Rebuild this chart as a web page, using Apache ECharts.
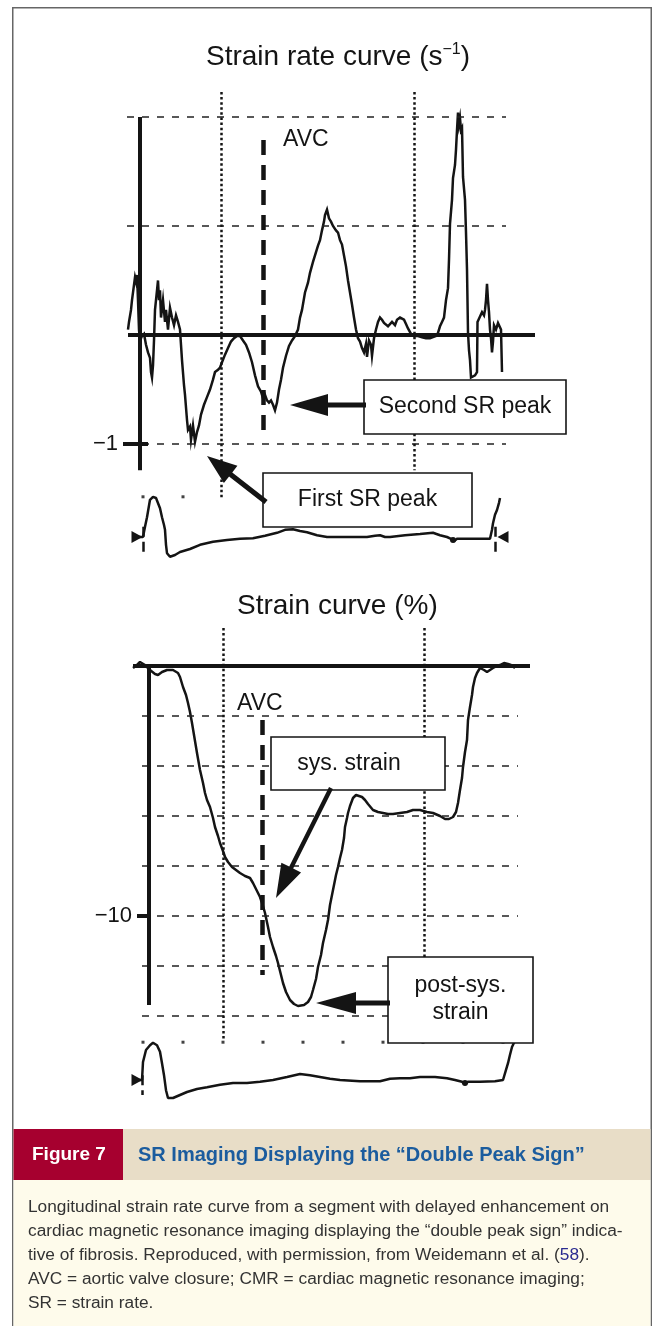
<!DOCTYPE html>
<html><head><meta charset="utf-8">
<script src="https://cdn.jsdelivr.net/npm/echarts@6/dist/echarts.min.js"></script>
<style>html,body{margin:0;padding:0;background:#fff}#c{width:656px;height:1326px}</style>
</head><body><div id="c"></div>
<script>
// ---------- DATA ----------
// Strain rate (s^-1) vs time (ms)
const srCurve = [
[0,0.05],[2.5,0.12],[7.5,0.23],[10,0.32],[15,0.46],[17.5,0.53],[20,0.49],[22.5,0.55],[25,0.32],[27.5,0.05],[30,-0.05],[35,-0.01],[40,0.01],[45,-0.09],[50,-0.16],[55,-0.21],[57.5,-0.34],[60,-0.39],[62.5,-0.28],[65,-0.05],[67.5,0.23],[72.5,0.41],[75,0.50],[77.5,0.32],[80,0.41],[82.5,0.16],[87.5,0.32],[92.5,0.12],[95,0.23],[100,0.05],[105,0.25],[110,0.16],[115,0.09],[120,0.18],[125,0.12],[130,0.05],[132.5,-0.09],[135,-0.23],[140,-0.46],[142.5,-0.55],[147.5,-0.78],[150,-0.87],[155,-0.84],[157.5,-0.96],[162.5,-0.83],[167.5,-0.98],[172.5,-0.89],[177.5,-0.83],[182.5,-0.73],[190,-0.64],[197.5,-0.57],[205,-0.50],[212.5,-0.41],[217.5,-0.34],[225,-0.32],[230,-0.30],[235,-0.25],[242.5,-0.18],[250,-0.12],[257.5,-0.06],[265,-0.03],[272.5,-0.01],[280,-0.01],[287.5,-0.05],[295,-0.09],[302.5,-0.16],[310,-0.25],[317.5,-0.37],[325,-0.47],[332.5,-0.52],[337.5,-0.58],[342.5,-0.55],[347.5,-0.60],[352.5,-0.62],[357.5,-0.60],[362.5,-0.64],[367.5,-0.69],[372.5,-0.62],[377.5,-0.50],[382.5,-0.41],[387.5,-0.30],[395,-0.19],[402.5,-0.10],[410,-0.05],[417.5,-0.01],[425,0.05],[430,0.16],[435,0.23],[442.5,0.39],[450,0.48],[455,0.57],[462.5,0.67],[470,0.76],[475,0.82],[480,0.87],[485,0.96],[490,1.04],[492.5,1.10],[497.5,1.15],[502.5,1.07],[507.5,1.04],[512.5,1.00],[520,0.96],[525,0.94],[530,0.87],[535,0.83],[540,0.73],[545,0.63],[550,0.50],[555,0.39],[560,0.28],[565,0.16],[570,0.05],[575,-0.03],[580,-0.06],[585,-0.12],[590,-0.16],[595,-0.08],[597.5,-0.20],[602.5,-0.05],[607.5,-0.09],[610,-0.19],[615,-0.03],[620,0.05],[625,0.12],[630,0.16],[635,0.14],[640,0.11],[645,0.12],[650,0.08],[655,0.07],[660,0.12],[667.5,0.09],[672.5,0.14],[680,0.16],[685,0.17],[690,0.14],[695,0.10],[700,0.06],[707.5,0.01],[715,-0.01],[725,-0.01],[735,-0.02],[745,-0.03],[755,-0.03],[762.5,-0.02],[770,-0.01],[775,0.02],[780,0.08],[785,0.12],[790,0.16],[795,0.32],[800,0.43],[802.5,0.69],[805,1.02],[810,1.24],[812.5,1.44],[817.5,1.56],[820,1.70],[822.5,1.88],[825,2.04],[827.5,1.93],[830,1.99],[832.5,1.88],[835,1.90],[837.5,1.45],[842.5,1.24],[845,0.94],[847.5,0.60],[850,0.02],[852.5,-0.14],[855,-0.23],[857.5,-0.39],[862.5,-0.39],[867.5,-0.37],[872.5,-0.34],[873.75,0.12],[880,0.17],[885,0.21],[890,0.18],[892.5,0.23],[895,0.32],[897.5,0.47],[900,0.32],[902.5,0.21],[905,0.05],[907.5,-0.03],[910,-0.16],[912.5,-0.06],[915,0.09],[920,0.05],[925,0.11],[930,0.12],[932.5,0.05],[935,-0.34]
];
// Strain (%) vs time (ms)
const strainCurve = [
[12.5,-0.08],[22.5,0.04],[30,0.16],[35,0.2],[42.5,0.04],[55,-0.16],[67.5,-0.32],[75,-0.36],[85,-0.24],[97.5,-0.16],[112.5,-0.16],[125,-0.28],[130,-0.44],[137.5,-0.84],[145,-1.16],[150,-1.48],[155,-1.84],[160,-2.28],[165,-2.76],[172.5,-3.48],[180,-4.16],[187.5,-4.68],[192.5,-5.08],[197.5,-5.36],[205,-5.64],[212.5,-6.08],[217.5,-6.44],[225,-6.8],[230,-7.08],[237.5,-7.4],[242.5,-7.64],[250,-7.84],[260,-8.04],[270,-8.16],[280,-8.28],[292.5,-8.4],[305,-8.48],[312.5,-8.68],[317.5,-8.84],[325,-9.08],[330,-9.24],[337.5,-9.6],[342.5,-9.88],[350,-10.44],[355,-10.84],[362.5,-11.24],[370,-11.6],[375,-11.88],[382.5,-12.36],[387.5,-12.68],[395,-13.04],[405,-13.36],[415,-13.52],[425,-13.6],[430,-13.64],[440,-13.56],[450,-13.44],[457.5,-13.24],[462.5,-12.96],[470,-12.52],[475,-12.04],[482.5,-11.56],[487.5,-11.08],[495,-10.56],[500,-10.16],[505,-9.56],[512.5,-8.96],[520,-8.36],[525,-8.04],[530,-7.68],[535,-7.36],[540,-6.88],[542.5,-6.44],[547.5,-6.08],[550,-5.88],[555,-5.6],[562.5,-5.28],[570,-5.16],[575,-5.12],[585,-5.24],[592.5,-5.36],[600,-5.52],[612.5,-5.76],[625,-5.84],[637.5,-5.88],[650,-5.92],[662.5,-5.92],[680,-5.88],[697.5,-5.84],[712.5,-5.76],[730,-5.76],[747.5,-5.84],[762.5,-5.88],[780,-6.0],[792.5,-6.12],[802.5,-6.12],[812.5,-6.04],[820,-5.84],[825,-5.48],[830,-4.96],[835,-4.48],[837.5,-4.04],[842.5,-3.44],[847.5,-2.96],[850,-2.16],[855,-1.64],[860,-1.16],[862.5,-0.84],[867.5,-0.48],[872.5,-0.28],[880,-0.08],[890,-0.16],[897.5,-0.24],[905,-0.16],[912.5,-0.08],[922.5,0],[930,0.04],[940,0.12],[950,0.08],[957.5,0.04],[967.5,-0.08]
];
// ECG traces (mV) vs time (ms)
const ecgTop = [
[20,0.05],[37.5,0.05],[42.5,0.22],[47.5,0.38],[55,0.67],[62.5,0.72],[70,0.70],[75,0.67],[80,0.53],[85,0.38],[90,0.25],[92.5,0.17],[95,-0.08],[97.5,-0.22],[105,-0.28],[117.5,-0.25],[130,-0.2],[155,-0.15],[180,-0.08],[212.5,-0.03],[247.5,0],[280,0.02],[312.5,0.03],[342.5,0.07],[372.5,0.12],[392.5,0.17],[412.5,0.18],[430,0.15],[447.5,0.13],[472.5,0.08],[497.5,0.05],[547.5,0.05],[597.5,0.05],[617.5,0.07],[630,0.08],[642.5,0.05],[655,0.05],[692.5,0.08],[730,0.1],[762.5,0.12],[780,0.08],[797.5,0.05],[807.5,0.02],[815,-0.02],[822.5,0.02],[830,0.02],[867.5,0.02],[905,0.02],[910,0.17],[912.5,0.28],[917.5,0.42],[922.5,0.5],[927.5,0.62],[930,0.7]
];
const ecgBottom = [
[20,0],[35,0],[37.5,0.3],[45,0.5],[55,0.58],[62.5,0.62],[72.5,0.58],[80,0.47],[85,0.28],[90,0.08],[95,-0.17],[100,-0.3],[112.5,-0.3],[130,-0.25],[147.5,-0.2],[172.5,-0.15],[197.5,-0.12],[230,-0.08],[262.5,-0.05],[297.5,-0.05],[330,-0.03],[362.5,0],[397.5,0.05],[430,0.1],[455,0.08],[480,0.05],[505,0.02],[530,0],[580,-0.02],[630,-0.02],[655,0.02],[680,0.03],[705,0.03],[730,0.05],[767.5,0.05],[797.5,0.03],[817.5,0],[835,-0.03],[842.5,-0.07],[850,-0.03],[880,-0.03],[917.5,-0.02],[937.5,0],[945,0.17],[950,0.28],[955,0.42],[960,0.55],[965,0.62],[970,0.67]
];
// event times (ms)
const srEvents = { start: 232.5, avc: 337.5, end: 715 };
const strainEvents = { start: 237.5, avc: 335, end: 740 };
// axis ticks / gridlines
const srTicks = [-1];
const srGridValues = [2, 1, -1];
const strainTicks = [-10];
const strainGridValues = [-2, -4, -6, -8, -10, -12, -14];
// 100 ms time marks
const timeMarks = [37.5, 137.5, 237.5, 337.5, 437.5, 537.5, 637.5, 737.5, 837.5, 937.5];

// ---------- STYLE ----------
const FONT = '"Liberation Sans", Arial, Helvetica, sans-serif';
const INK = '#141414';
const thick = { color: INK, width: 4, type: 'solid' };
const dotted = { color: INK, width: 2.5, type: [2.5, 2.6] };
const avcDash = { color: INK, width: 4.5, type: [15, 10] };
const gridDash = { color: '#222', width: 1.5, type: [7, 8] };

function seg(x1, y1, x2, y2, st) { return [{ coord: [x1, y1], lineStyle: st }, { coord: [x2, y2] }]; }
function mline(data) { return { silent: true, symbol: ['none', 'none'], label: { show: false }, emphasis: { disabled: true }, animation: false, data }; }

const topDeco = [];
srGridValues.forEach(v => topDeco.push(seg(-2.5, v, 945, v, gridDash)));
topDeco.push(seg(srEvents.start, 2.23, srEvents.start, -1.51, dotted));
topDeco.push(seg(srEvents.end, 2.23, srEvents.end, -1.24, dotted));
topDeco.push(seg(srEvents.avc, 1.79, srEvents.avc, -0.94, avcDash));
topDeco.push(seg(0, 0, 1017.5, 0, thick));
topDeco.push(seg(30, 2.0, 30, -1.24, thick));
srTicks.forEach(v => topDeco.push(seg(-12.5, v, 50, v, thick)));

const botDeco = [];
strainGridValues.forEach(v => botDeco.push(seg(35, v, 975, v, gridDash)));
botDeco.push(seg(strainEvents.start, 1.52, strainEvents.start, -14.96, dotted));
botDeco.push(seg(strainEvents.end, 1.52, strainEvents.end, -14.96, dotted));
botDeco.push(seg(strainEvents.avc, -2.16, strainEvents.avc, -12.36, avcDash));
botDeco.push(seg(12.5, 0, 1005, 0, thick));
botDeco.push(seg(52.5, 0, 52.5, -13.56, thick));
strainTicks.forEach(v => botDeco.push(seg(22.5, v, 55, v, thick)));

const triR = 'path://M0,0L10,5L0,10Z';
const triL = 'path://M10,0L0,5L10,10Z';

function txt(x, y, s, size, o) {
  o = o || {};
  const st = { x, y, text: s, font: (o.weight || 'normal') + ' ' + size + 'px ' + FONT, fill: o.fill || INK,
    textAlign: o.align || 'left', align: o.align || 'left', textVerticalAlign: 'middle', verticalAlign: 'middle' };
  if (o.rich) st.rich = o.rich;
  return { type: 'text', z: 120, silent: true, style: st };
}
function box(x, y, w, h) { return { type: 'rect', z: 100, silent: true, shape: { x, y, width: w, height: h }, style: { fill: '#fff', stroke: INK, lineWidth: 1.6 } }; }
function arrow(x1, y1, x2, y2, hl, hw, sw) {
  const dx = x2 - x1, dy = y2 - y1, L = Math.hypot(dx, dy), ux = dx / L, uy = dy / L, px = -uy, py = ux;
  const bx = x2 - ux * hl, by = y2 - uy * hl;
  const pts = [[x1 + px * sw, y1 + py * sw], [bx + px * sw, by + py * sw], [bx + px * hw, by + py * hw], [x2, y2],
    [bx - px * hw, by - py * hw], [bx - px * sw, by - py * sw], [x1 - px * sw, y1 - py * sw]];
  return { type: 'polygon', z: 110, silent: true, shape: { points: pts }, style: { fill: INK } };
}

const captionFont = 17.3;
const graphics = [
  { type: 'rect', z: 0, silent: true, shape: { x: 12.75, y: 7.75, width: 638.5, height: 1330 }, style: { fill: 'none', stroke: '#666', lineWidth: 1.5 } },
  { type: 'rect', z: 1, silent: true, shape: { x: 13.5, y: 1129, width: 637, height: 51 }, style: { fill: '#E8DDC7' } },
  { type: 'rect', z: 1, silent: true, shape: { x: 13.5, y: 1129, width: 109.5, height: 51 }, style: { fill: '#A6002F' } },
  { type: 'rect', z: 1, silent: true, shape: { x: 13.5, y: 1180, width: 637, height: 150 }, style: { fill: '#FEFBEB' } },
  txt(32, 1155, 'Figure 7', 19, { weight: 'bold', fill: '#ffffff' }),
  txt(138, 1155, 'SR Imaging Displaying the \u201cDouble Peak Sign\u201d', 20, { weight: 'bold', fill: '#1B5C9E' }),
  txt(28, 1207, 'Longitudinal strain rate curve from a segment with delayed enhancement on', captionFont, { fill: '#333' }),
  txt(28, 1231, 'cardiac magnetic resonance imaging displaying the \u201cdouble peak sign\u201d indica-', captionFont, { fill: '#333' }),
  txt(28, 1255, 'tive of fibrosis. Reproduced, with permission, from Weidemann et al. ({n|58}).', captionFont,
    { fill: '#333', rich: { n: { fill: '#2b2b90', font: 'normal ' + captionFont + 'px ' + FONT } } }),
  txt(28, 1279, 'AVC = aortic valve closure; CMR = cardiac magnetic resonance imaging;', captionFont, { fill: '#333' }),
  txt(28, 1303, 'SR = strain rate.', captionFont, { fill: '#333' }),
  // top annotations
  txt(283, 140, 'AVC', 23),
  arrow(366, 405, 290, 405, 38, 11, 2.6),
  box(364, 380, 202, 54),
  txt(465, 407, 'Second SR peak', 23, { align: 'center' }),
  arrow(266, 502, 207, 456, 30, 11, 2.6),
  box(263, 473, 209, 54),
  txt(367.5, 500, 'First SR peak', 23, { align: 'center' }),
  // bottom annotations
  txt(237, 704, 'AVC', 23),
  arrow(331, 788, 276, 898, 34, 11, 2.2),
  box(271, 737, 174, 53),
  txt(349, 764, 'sys. strain', 23, { align: 'center' }),
  arrow(390, 1003, 316, 1003, 40, 11, 2.6),
  box(388, 957, 145, 86),
  txt(460.5, 986, 'post-sys.', 23, { align: 'center' }),
  txt(460.5, 1013, 'strain', 23, { align: 'center' })
];

const hiddenX = (min, max, gi) => ({ type: 'value', gridIndex: gi, min, max, show: false });
const option = {
  animation: false,
  backgroundColor: '#ffffff',
  title: [
    { text: 'Strain rate curve (s{sup|\u22121})', left: 206, top: 42, padding: 0,
      textStyle: { fontFamily: FONT, fontSize: 28, fontWeight: 'normal', color: INK,
        rich: { sup: { fontFamily: FONT, fontSize: 16, color: INK, verticalAlign: 'top', lineHeight: 30 } } } },
    { text: 'Strain curve (%)', left: 237, top: 592, padding: 0,
      textStyle: { fontFamily: FONT, fontSize: 28, fontWeight: 'normal', color: INK } }
  ],
  grid: [
    { left: 123, top: 89.75, width: 413, height: 414.2 },
    { left: 123, top: 480, width: 413, height: 90 },
    { left: 133, top: 626, width: 397, height: 415 },
    { left: 123, top: 1020, width: 413, height: 90 }
  ],
  xAxis: [hiddenX(-12.5, 1020, 0), hiddenX(-12.5, 1020, 1), hiddenX(12.5, 1005, 2), hiddenX(-12.5, 1020, 3)],
  yAxis: [
    { type: 'value', gridIndex: 0, min: -1.55, max: 2.25, axisLine: { show: false }, axisTick: { show: false }, splitLine: { show: false },
      axisLabel: { customValues: srTicks, margin: 5, fontFamily: FONT, fontSize: 22, color: INK, formatter: v => (v < 0 ? '\u2212' : '') + Math.abs(v) } },
    { type: 'value', gridIndex: 1, min: -0.5, max: 1.0, show: false },
    { type: 'value', gridIndex: 2, min: -15, max: 1.6, axisLine: { show: false }, axisTick: { show: false }, splitLine: { show: false },
      axisLabel: { customValues: strainTicks, margin: 1, fontFamily: FONT, fontSize: 22, color: INK, formatter: v => (v < 0 ? '\u2212' : '') + Math.abs(v) } },
    { type: 'value', gridIndex: 3, min: -0.5, max: 1.0, show: false }
  ],
  series: [
    { type: 'line', xAxisIndex: 0, yAxisIndex: 0, data: [], z: 1, silent: true, markLine: mline(topDeco) },
    { type: 'line', xAxisIndex: 0, yAxisIndex: 0, data: srCurve, z: 3, silent: true, showSymbol: false, clip: false,
      lineStyle: { color: INK, width: 2.5, join: 'miter' } },
    { type: 'line', xAxisIndex: 1, yAxisIndex: 1, data: ecgTop, z: 3, silent: true, showSymbol: false, clip: false,
      lineStyle: { color: INK, width: 2.5 },
      markLine: mline([seg(37.5, 0.22, 37.5, -0.2, { color: INK, width: 2.5 }), seg(917.5, 0.22, 917.5, -0.2, { color: INK, width: 2.5 })]),
      markPoint: { silent: true, label: { show: false }, animation: false, itemStyle: { color: INK },
        data: [
          { coord: [22.5, 0.05], symbol: triR, symbolSize: [11, 12] },
          { coord: [937.5, 0.05], symbol: triL, symbolSize: [11, 12] },
          { coord: [812.5, 0.0], symbol: 'circle', symbolSize: 6 }
        ] } },
    { type: 'scatter', xAxisIndex: 1, yAxisIndex: 1, data: timeMarks.slice(0, 2).map(t => [t, 0.72]), symbol: 'rect', symbolSize: 3,
      itemStyle: { color: INK }, silent: true, z: 2 },
    { type: 'line', xAxisIndex: 2, yAxisIndex: 2, data: [], z: 1, silent: true, markLine: mline(botDeco) },
    { type: 'line', xAxisIndex: 2, yAxisIndex: 2, data: strainCurve, z: 3, silent: true, showSymbol: false, clip: false,
      lineStyle: { color: INK, width: 2.5 } },
    { type: 'line', xAxisIndex: 3, yAxisIndex: 3, data: ecgBottom, z: 3, silent: true, showSymbol: false, clip: false,
      lineStyle: { color: INK, width: 2.5 },
      markLine: mline([seg(35, 0.08, 35, -0.25, { color: INK, width: 2.5 })]),
      markPoint: { silent: true, label: { show: false }, animation: false, itemStyle: { color: INK },
        data: [
          { coord: [22.5, 0], symbol: triR, symbolSize: [11, 12] },
          { coord: [842.5, -0.05], symbol: 'circle', symbolSize: 6 }
        ] } },
    { type: 'scatter', xAxisIndex: 3, yAxisIndex: 3, data: timeMarks.map(t => [t, 0.63]), symbol: 'rect', symbolSize: 3,
      itemStyle: { color: INK }, silent: true, z: 2 }
  ],
  graphic: graphics
};
const chart = echarts.init(document.getElementById('c'), null, { renderer: 'canvas' });
chart.setOption(option);
</script>
</body></html>
